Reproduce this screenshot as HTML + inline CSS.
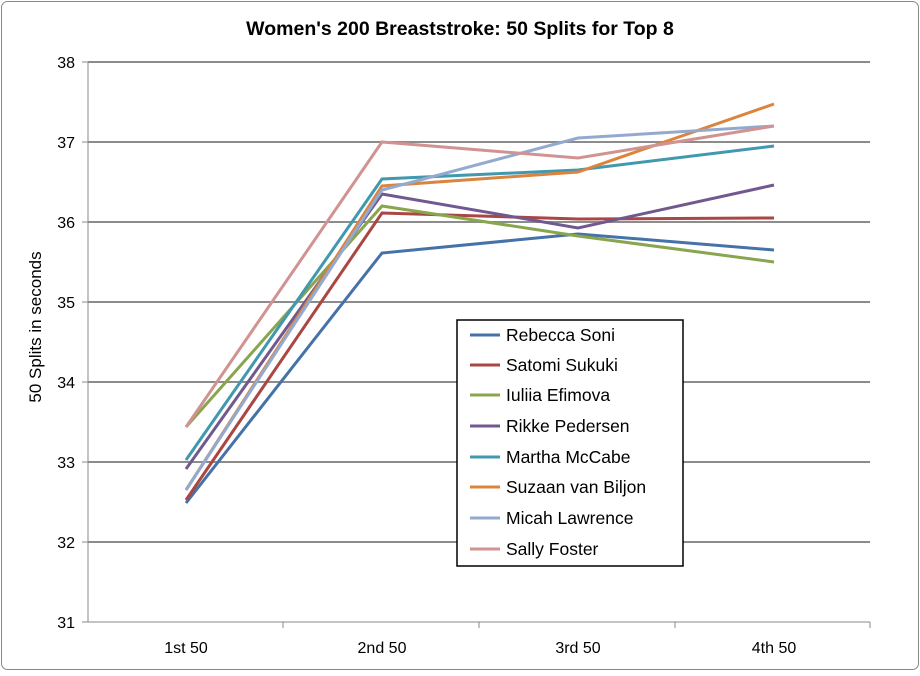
<!DOCTYPE html>
<html><head><style>body{margin:0;background:#fff}</style></head><body>
<svg width="920" height="671" xmlns="http://www.w3.org/2000/svg" font-family="Liberation Sans, sans-serif">
<rect x="1.5" y="1.5" width="917" height="668" rx="6" fill="#fff" stroke="#888" stroke-width="1"/>
<text x="460" y="35" text-anchor="middle" font-size="19.5" font-weight="bold">Women's 200 Breaststroke: 50 Splits for Top 8</text>
<g stroke="#8c8c8c" stroke-width="2">
<line x1="88" y1="62" x2="870" y2="62"/><line x1="88" y1="142" x2="870" y2="142"/>
<line x1="88" y1="222" x2="870" y2="222"/><line x1="88" y1="302" x2="870" y2="302"/>
<line x1="88" y1="382" x2="870" y2="382"/><line x1="88" y1="462" x2="870" y2="462"/>
<line x1="88" y1="542" x2="870" y2="542"/>
</g>
<g stroke="#888" stroke-width="1">
<line x1="88" y1="62" x2="88" y2="622"/><line x1="88" y1="622" x2="870" y2="622"/>
<line x1="82" y1="62" x2="88" y2="62"/><line x1="82" y1="142" x2="88" y2="142"/><line x1="82" y1="222" x2="88" y2="222"/><line x1="82" y1="302" x2="88" y2="302"/><line x1="82" y1="382" x2="88" y2="382"/><line x1="82" y1="462" x2="88" y2="462"/><line x1="82" y1="542" x2="88" y2="542"/><line x1="82" y1="622" x2="88" y2="622"/>
<line x1="283" y1="622" x2="283" y2="628"/><line x1="479" y1="622" x2="479" y2="628"/><line x1="675" y1="622" x2="675" y2="628"/><line x1="870" y1="622" x2="870" y2="628"/>
</g>
<g font-size="16" text-anchor="end">
<text x="75" y="68">38</text><text x="75" y="148">37</text><text x="75" y="228">36</text><text x="75" y="308">35</text><text x="75" y="388">34</text><text x="75" y="468">33</text><text x="75" y="548">32</text><text x="75" y="628">31</text>
</g>
<g font-size="16" text-anchor="middle">
<text x="186" y="653">1st 50</text><text x="382" y="653">2nd 50</text><text x="578" y="653">3rd 50</text><text x="774" y="653">4th 50</text>
</g>
<text transform="translate(41,327) rotate(-90)" font-size="17" text-anchor="middle">50 Splits in seconds</text>
<g fill="none" stroke-width="3">
<polyline stroke="#4572a7" points="186,503 382,253 578,234 774,250"/>
<polyline stroke="#aa4643" points="186,500 382,213 578,219 774,218"/>
<polyline stroke="#89a54e" points="186,427 382,206 578,236 774,262"/>
<polyline stroke="#71588f" points="186,469 382,194 578,228 774,185"/>
<polyline stroke="#4198af" points="186,460 382,179 578,170 774,146"/>
<polyline stroke="#db843d" points="186,490 382,186 578,172 774,104"/>
<polyline stroke="#93a9cf" points="186,490 382,190 578,138 774,126"/>
<polyline stroke="#d19392" points="186,427 382,142 578,158 774,126"/>
</g>
<rect x="457" y="320" width="226" height="246" fill="#fff" stroke="#000" stroke-width="1.5"/>
<g stroke-width="3">
<line x1="470" y1="335" x2="500" y2="335" stroke="#4572a7"/>
<line x1="470" y1="365" x2="500" y2="365" stroke="#aa4643"/>
<line x1="470" y1="395" x2="500" y2="395" stroke="#89a54e"/>
<line x1="470" y1="426" x2="500" y2="426" stroke="#71588f"/>
<line x1="470" y1="457" x2="500" y2="457" stroke="#4198af"/>
<line x1="470" y1="487" x2="500" y2="487" stroke="#db843d"/>
<line x1="470" y1="518" x2="500" y2="518" stroke="#93a9cf"/>
<line x1="470" y1="549" x2="500" y2="549" stroke="#d19392"/>
</g>
<g font-size="17.5">
<text x="506" y="341">Rebecca Soni</text>
<text x="506" y="371">Satomi Sukuki</text>
<text x="506" y="401">Iuliia Efimova</text>
<text x="506" y="432">Rikke Pedersen</text>
<text x="506" y="463">Martha McCabe</text>
<text x="506" y="493">Suzaan van Biljon</text>
<text x="506" y="524">Micah Lawrence</text>
<text x="506" y="555">Sally Foster</text>
</g>
</svg>
</body></html>
